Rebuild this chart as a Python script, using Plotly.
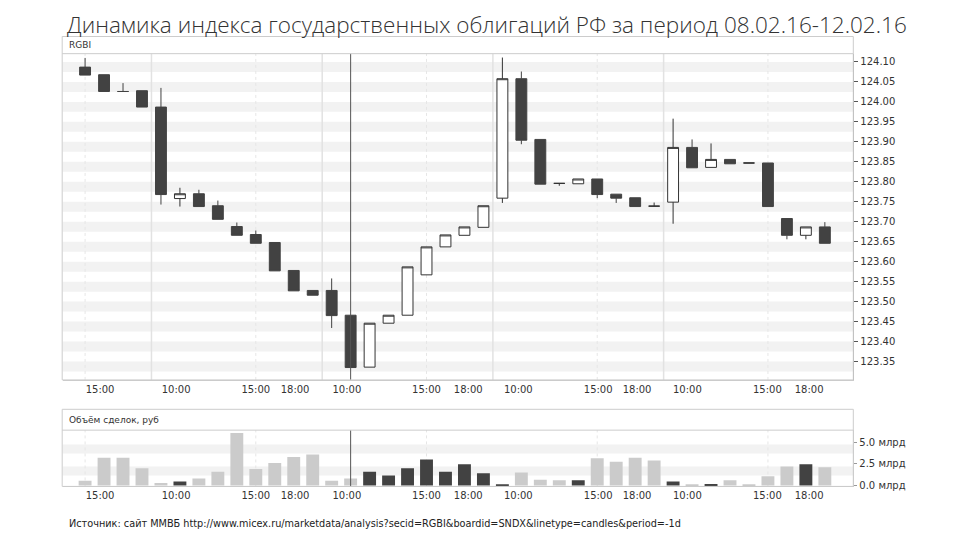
import plotly.graph_objects as go

# ---------------- data ----------------
opens = [124.087, 124.068, 124.026, 124.028, 123.987, 123.758, 123.770, 123.740, 123.688, 123.668,
         123.648, 123.578, 123.528, 123.528, 123.466, 123.336, 123.446, 123.466, 123.567, 123.637,
         123.666, 123.686, 123.759, 124.058, 123.906, 123.796, 123.795, 123.807, 123.769, 123.760,
         123.739, 123.749, 123.886, 123.836, 123.856, 123.847, 123.847, 123.708, 123.666, 123.687]
highs = [124.110, 124.068, 124.047, 124.028, 124.035, 123.785, 123.780, 123.753, 123.698, 123.678,
         123.648, 123.578, 123.528, 123.558, 123.466, 123.446, 123.466, 123.587, 123.637, 123.667,
         123.687, 123.740, 124.111, 124.076, 123.906, 123.796, 123.807, 123.807, 123.769, 123.760,
         123.748, 123.958, 123.906, 123.896, 123.856, 123.847, 123.847, 123.708, 123.687, 123.699]
lows = [124.067, 124.026, 124.026, 123.987, 123.743, 123.738, 123.738, 123.706, 123.666, 123.646,
        123.577, 123.527, 123.516, 123.434, 123.335, 123.336, 123.446, 123.466, 123.567, 123.637,
        123.666, 123.686, 123.747, 123.894, 123.794, 123.790, 123.795, 123.759, 123.747, 123.738,
        123.739, 123.695, 123.835, 123.836, 123.845, 123.847, 123.738, 123.656, 123.656, 123.646]
closes = [124.067, 124.026, 124.026, 123.987, 123.768, 123.770, 123.738, 123.706, 123.666, 123.646,
          123.577, 123.527, 123.516, 123.465, 123.335, 123.446, 123.466, 123.587, 123.637, 123.667,
          123.687, 123.740, 124.058, 123.904, 123.794, 123.796, 123.807, 123.768, 123.759, 123.738,
          123.739, 123.886, 123.835, 123.856, 123.845, 123.847, 123.738, 123.666, 123.687, 123.646]
# trade volume, bn RUB
volumes = [0.54, 3.2, 3.2, 2.0, 0.27, 0.46, 0.8, 1.6, 6.1, 1.9,
           2.6, 3.3, 3.6, 0.54, 0.8, 1.6, 1.15, 2.0, 3.0, 1.6,
           2.45, 1.4, 0.08, 1.5, 0.65, 0.6, 0.6, 3.15, 2.75, 3.2,
           2.9, 0.46, 0.08, 0.15, 0.6, 0.1, 1.05, 2.2, 2.45, 2.1]

# x-axis time labels (positions in candle index units)
time_tick_pos = [0.79, 4.8, 9.0, 11.07, 13.8, 18.0, 20.2, 22.84, 27.05, 29.1, 31.75, 35.97, 38.17]
time_tick_text = ["15:00", "10:00", "15:00", "18:00", "10:00", "15:00", "18:00",
                  "10:00", "15:00", "18:00", "10:00", "15:00", "18:00"]
price_ticks = [123.35, 123.40, 123.45, 123.50, 123.55, 123.60, 123.65, 123.70, 123.75,
               123.80, 123.85, 123.90, 123.95, 124.00, 124.05, 124.10]
vol_ticks = [0.0, 2.5, 5.0]
vol_tick_text = ["0.0 млрд", "2.5 млрд", "5.0 млрд"]
hour15_lines = [0, 9, 18, 27, 36]
day_lines = [3.5, 12.5, 21.5, 30.5]
cursor_idx = 14

x = list(range(len(opens)))

DARK = "#424242"
LIGHT = "#cbcbcb"
vol_colors = [DARK if c > o else LIGHT for o, c in zip(opens, closes)]

# page body has an 8px default margin -> convert screen px to paper fractions
OFF = 8
W, H = 960, 540


def px(v):
    return (v - OFF) / W


def py(v):
    return 1 - (v - OFF) / H


fig = go.Figure()
fig.add_trace(go.Candlestick(
    x=x, open=opens, high=highs, low=lows, close=closes,
    increasing=dict(fillcolor="white", line=dict(color="#333333", width=1)),
    decreasing=dict(fillcolor=DARK, line=dict(color=DARK, width=1)),
    whiskerwidth=0, xaxis="x", yaxis="y", showlegend=False, hoverinfo="skip"))
fig.add_trace(go.Bar(
    x=x, y=volumes, marker=dict(color=vol_colors, line=dict(width=0)),
    width=0.68, xaxis="x2", yaxis="y2", showlegend=False, hoverinfo="skip"))

XR = [-1.18, 40.5]
xd = [px(62.7), px(853.3)]
tickfont = dict(family="DejaVu Sans", size=10, color="#333333")

fig.update_layout(
    width=W, height=H,
    margin=dict(l=0, r=0, t=0, b=0),
    paper_bgcolor="white", plot_bgcolor="white",
    boxgap=0.18,
    xaxis=dict(domain=xd, range=XR, anchor="y", tickmode="array",
               tickvals=time_tick_pos, ticktext=time_tick_text, tickfont=tickfont,
               showgrid=False, zeroline=False, showline=True, linecolor="#cccccc",
               rangeslider=dict(visible=False), ticks="", fixedrange=True),
    yaxis=dict(domain=[py(382.7), py(54)], range=[123.304, 124.1207],
               side="right", anchor="x", tickmode="array", tickvals=price_ticks,
               tickformat=".2f", tickfont=tickfont, ticks="outside", ticklen=4,
               tickcolor="#555555", showgrid=False, zeroline=False,
               showline=True, linecolor="#999999"),
    xaxis2=dict(domain=xd, range=XR, anchor="y2", tickmode="array",
                tickvals=time_tick_pos, ticktext=time_tick_text, tickfont=tickfont,
                showgrid=False, zeroline=False, showline=True, linecolor="#cccccc",
                ticks=""),
    yaxis2=dict(domain=[py(490), py(433.3)], range=[-0.12, 6.42],
                side="right", anchor="x2", tickmode="array", tickvals=vol_ticks,
                ticktext=vol_tick_text, tickfont=tickfont, ticks="outside", ticklen=3,
                tickcolor="#999999", showgrid=False, zeroline=False,
                showline=True, linecolor="#cccccc"),
)

shapes = []
# horizontal stripes in the price panel
for v in price_ticks:
    shapes.append(dict(type="rect", xref="x domain", yref="y", x0=0, x1=1,
                       y0=v - 0.025, y1=v, fillcolor="#f2f2f2", line=dict(width=0),
                       layer="below"))
# stripes in volume panel
for lo, hi in [(1.15, 2.2), (3.7, 4.75)]:
    shapes.append(dict(type="rect", xref="x2 domain", yref="y2", x0=0, x1=1,
                       y0=lo, y1=hi, fillcolor="#f2f2f2", line=dict(width=0),
                       layer="below"))
# vertical grid lines
for xv in hour15_lines:
    for xr, yr in [("x", "y domain"), ("x2", "y2 domain")]:
        shapes.append(dict(type="line", xref=xr, yref=yr, x0=xv, x1=xv, y0=0, y1=1,
                           line=dict(color="#e6e6e6", width=1, dash="dot"), layer="below"))
for xv in day_lines:
    shapes.append(dict(type="line", xref="x", yref="y domain", x0=xv, x1=xv, y0=0, y1=1,
                       line=dict(color="#e2e2e2", width=1.5), layer="below"))
# cursor line
for xr, yr in [("x", "y domain"), ("x2", "y2 domain")]:
    shapes.append(dict(type="line", xref=xr, yref=yr, x0=cursor_idx, x1=cursor_idx,
                       y0=0, y1=1, line=dict(color="#555555", width=1)))
# panel frames and headers
for top, sep, bot in [(36.7, 54, 382.7), (412.3, 433.3, 490)]:
    shapes.append(dict(type="rect", xref="paper", yref="paper", x0=px(62.2), x1=px(853.3),
                       y0=py(bot), y1=py(top), line=dict(color="#cccccc", width=1)))
    shapes.append(dict(type="line", xref="paper", yref="paper", x0=px(62.2), x1=px(853.3),
                       y0=py(sep), y1=py(sep), line=dict(color="#cccccc", width=1)))
fig.update_layout(shapes=shapes)

annotations = [
    dict(text="Динамика индекса государственных облигаций РФ за период 08.02.16-12.02.16",
         xref="paper", yref="paper", x=px(486.5), y=1.0, xanchor="center",
         yanchor="top", showarrow=False, borderpad=0,
         font=dict(family="Open Sans", size=22.5, color="#333333", weight=300)),
    dict(text="RGBI", xref="paper", yref="paper", x=px(67), y=py(45),
         xanchor="left", yanchor="middle", showarrow=False,
         font=dict(family="DejaVu Sans", size=9, color="#333333")),
    dict(text="Объём сделок, руб", xref="paper", yref="paper", x=px(67), y=py(423),
         xanchor="left", yanchor="middle", showarrow=False,
         font=dict(family="DejaVu Sans", size=9, color="#333333")),
    dict(text="Источник: сайт ММВБ http://www.micex.ru/marketdata/analysis?secid=RGBI&boardid=SNDX&linetype=candles&period=-1d",
         xref="paper", yref="paper", x=px(67), y=py(527), xanchor="left",
         yanchor="middle", showarrow=False,
         font=dict(family="Liberation Sans Narrow, DejaVu Sans Condensed, sans-serif",
                   size=10.8, color="#222222")),
]
fig.update_layout(annotations=annotations)

fig.write_html("out.html")
